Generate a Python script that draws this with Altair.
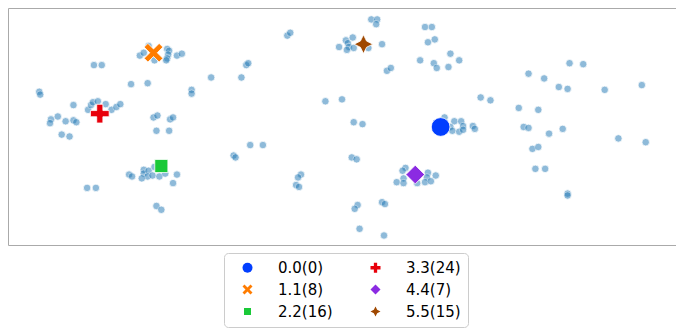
import altair as alt
import pandas as pd

pt_x = [32, 33, 88, 96,
        135, 139, 144, 150, 163, 165, 164, 163, 162, 173, 178,
        126, 143, 208, 188, 188,
        67, 82, 85, 87, 92, 100, 106, 111, 115,
        51, 44, 43, 59, 67, 70, 55, 63,
        149, 153, 166, 169, 152, 165, 231, 233,
        124, 127, 139, 139, 144, 143, 137, 148, 155, 161, 173, 169, 150,
        81, 90, 152, 157,
        372, 378, 377, 286, 289,
        339, 346, 348, 349, 347, 353, 354, 369, 383,
        427, 434, 430, 437, 453, 422, 436, 439, 451, 388, 392, 244, 246, 239,
        325, 342, 354, 363, 248, 261, 352, 357, 300, 297, 295, 298,
        407, 404, 405, 398, 405, 430, 438, 429, 427, 433, 419,
        358, 355, 383, 386, 360, 385,
        447, 457, 464, 453, 455, 462, 466, 466, 476, 478,
        462, 575, 589, 533, 549, 564, 573, 611, 649, 484, 494, 523, 543,
        528, 533, 568, 554, 625, 653, 537, 543, 540, 550, 573, 573]
pt_y = [88, 91, 60, 60,
        50, 47, 40, 55, 43, 45, 49, 53, 55, 50, 48,
        80, 79, 73, 86, 90,
        102, 107, 102, 99, 98, 101, 107, 104, 101,
        114, 117, 121, 119, 118, 120, 133, 135,
        115, 113, 117, 115, 129, 129, 155, 157,
        175, 177, 170, 174, 171, 177, 179, 176, 177, 174, 175, 184, 167,
        189, 189, 208, 212,
        12, 12, 17, 29, 26,
        41, 34, 37, 41, 44, 31, 42, 42, 38,
        20, 20, 36, 33, 48, 55, 58, 63, 62, 66, 63, 60, 58, 73,
        98, 96, 120, 122, 144, 144, 157, 159, 175, 178, 186, 188,
        168, 171, 179, 183, 184, 173, 176, 178, 183, 182, 184,
        207, 211, 204, 206, 232, 239,
        115, 119, 119, 125, 129, 130, 124, 128, 124, 127,
        55, 58, 59, 69, 74, 83, 85, 86, 81, 94, 97, 105, 107,
        125, 126, 127, 132, 137, 141, 148, 146, 169, 169, 195, 197]

# Cluster centres
labels = ["0.0(0)", "1.1(8)", "2.2(16)", "3.3(24)", "4.4(7)", "5.5(15)"]
cx = [443, 149, 157, 94, 417, 364]
cy = [125, 47, 166, 111, 175, 38]
colors = ["#023eff", "#ff7c00", "#1ac938", "#e8000b", "#8b2be2", "#9f4800"]
shapes = [
    "circle",
    "M-1,-0.6 L-0.6,-1 L0,-0.4 L0.6,-1 L1,-0.6 L0.4,0 L1,0.6 L0.6,1 L0,0.4 L-0.6,1 L-1,0.6 L-0.4,0 Z",
    "M-0.7,-0.7 L0.7,-0.7 L0.7,0.7 L-0.7,0.7 Z",
    "M-0.33,-1 L0.33,-1 L0.33,-0.33 L1,-0.33 L1,0.33 L0.33,0.33 L0.33,1 L-0.33,1 L-0.33,0.33 L-1,0.33 L-1,-0.33 L-0.33,-0.33 Z",
    "M0,-1 L1,0 L0,1 L-1,0 Z",
    "M0,-1 L0.33,-0.33 L1,0 L0.33,0.33 L0,1 L-0.33,0.33 L-1,0 L-0.33,-0.33 Z",
]

pts = pd.DataFrame({"x": pt_x, "y": pt_y})
ctr = pd.DataFrame({"x": cx, "y": cy, "label": labels})

xs = alt.Scale(domain=[0, 684], nice=False, zero=False)
ys = alt.Scale(domain=[0, 249], nice=False, zero=False, reverse=True)

base_pts = alt.Chart(pts).mark_point(
    filled=True, size=56, color="#1f77b4", opacity=0.5,
    stroke="white", strokeWidth=0.75, strokeOpacity=1
).encode(
    x=alt.X("x:Q", scale=xs, axis=None),
    y=alt.Y("y:Q", scale=ys, axis=None),
)

centres = alt.Chart(ctr).mark_point(
    filled=True, size=350, opacity=1, stroke="white", strokeWidth=0.8
).encode(
    x=alt.X("x:Q", scale=xs, axis=None),
    y=alt.Y("y:Q", scale=ys, axis=None),
    color=alt.Color("label:N", scale=alt.Scale(domain=labels, range=colors),
                    legend=alt.Legend(title=None, orient="none", legendX=216, legendY=245,
                                      columns=2, symbolSize=100, symbolStrokeWidth=0,
                                      labelFontSize=15, labelFont="DejaVu Sans",
                                      labelColor="#000000", labelOffset=23,
                                      symbolOffset=9, padding=7, rowPadding=6,
                                      columnPadding=26, strokeColor="#cccccc",
                                      cornerRadius=4, fillColor="white")),
    shape=alt.Shape("label:N", scale=alt.Scale(domain=labels, range=shapes)),
)

chart = alt.layer(base_pts, centres).properties(
    width=668, height=237, padding=0
).configure_view(
    stroke="#aaaaaa", strokeWidth=1
)

chart.save("out.html", embed_options={"renderer": "svg", "actions": False})
